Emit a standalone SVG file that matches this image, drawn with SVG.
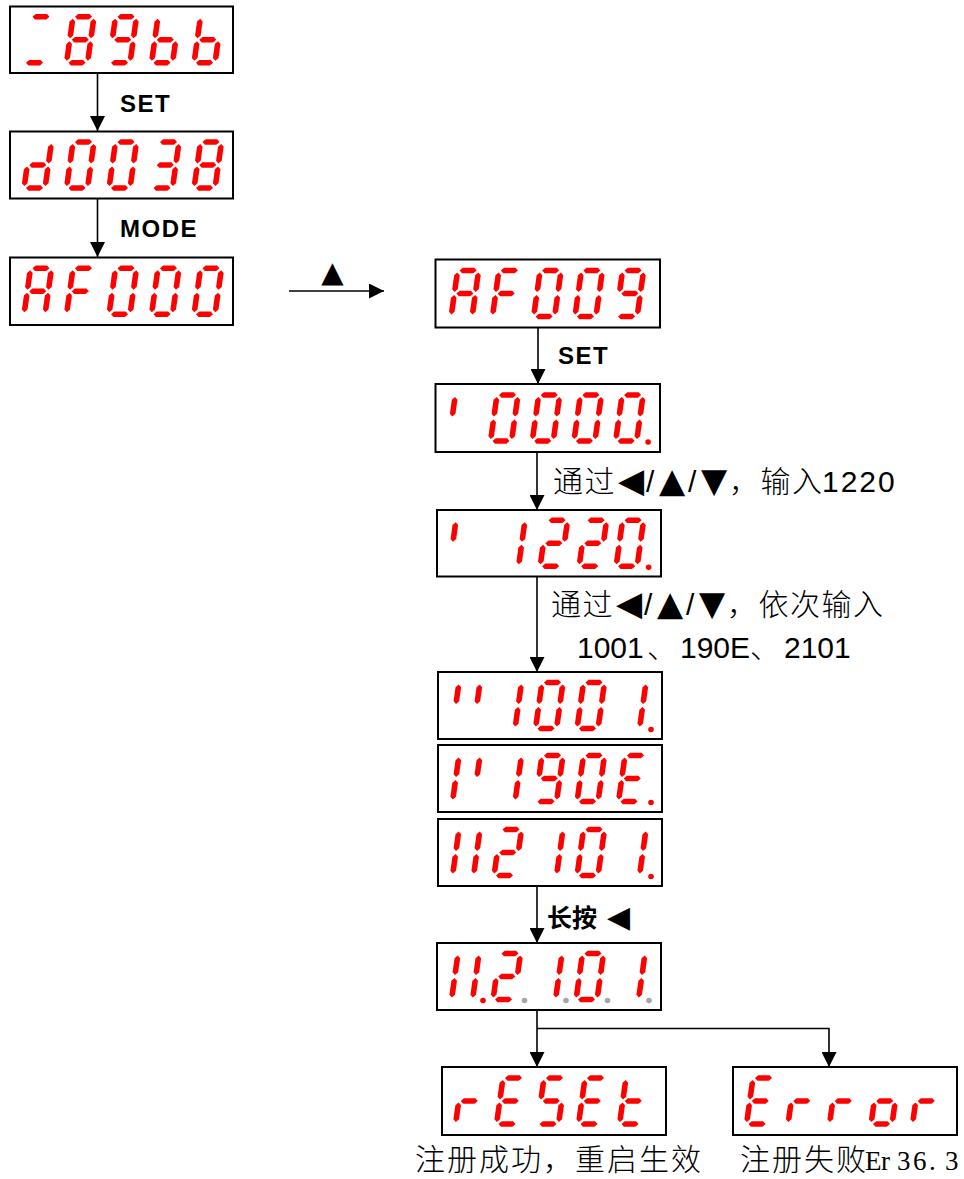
<svg xmlns="http://www.w3.org/2000/svg" width="964" height="1179" viewBox="0 0 964 1179">
<style>
.box{fill:#fff;stroke:#000;stroke-width:2}
.seg{fill:#ff0000}
.dp{fill:#ff0000}
.dpg{fill:#a6a6a6}
.conn{fill:none;stroke:#000;stroke-width:1.6}
.key{font-family:"Liberation Sans",Arial,sans-serif;font-weight:bold;font-size:24px;letter-spacing:1.5px;fill:#000}
.cjk{font-family:"Noto Sans CJK SC",sans-serif;font-size:30px;font-weight:300;fill:#000}
.cjkb{font-family:"Noto Sans CJK SC",sans-serif;font-size:25px;font-weight:bold;fill:#000}
.lat{font-family:"Liberation Sans",Arial,sans-serif;font-size:30px;font-weight:normal;fill:#000}
.sym{font-family:"DejaVu Sans",sans-serif;font-weight:normal;fill:#000}
.mono{font-family:"Liberation Serif","Times New Roman",serif;font-size:27px;font-weight:normal;fill:#000}
</style>
<defs>
<marker id="ah" markerWidth="15" markerHeight="15" refX="15" refY="7.5" orient="auto" markerUnits="userSpaceOnUse"><path d="M0,0 L15,7.5 L0,15 Z" fill="#000"/></marker>
<polygon id="sa" class="seg" points="2,0 4.8,-2.8 16.2,-2.8 19,0 16.2,2.8 4.8,2.8"/>
<polygon id="sg" class="seg" points="2,23 4.8,20.2 16.2,20.2 19,23 16.2,25.8 4.8,25.8"/>
<polygon id="sd" class="seg" points="2,46 4.8,43.2 16.2,43.2 19,46 16.2,48.8 4.8,48.8"/>
<polygon id="sf" class="seg" points="0,2 2.8,4.8 2.8,18.7 0,21.5 -2.8,18.7 -2.8,4.8"/>
<polygon id="se" class="seg" points="0,24.5 2.8,27.3 2.8,41.2 0,44 -2.8,41.2 -2.8,27.3"/>
<polygon id="sb" class="seg" points="21,2 23.8,4.8 23.8,18.7 21,21.5 18.2,18.7 18.2,4.8"/>
<polygon id="sc" class="seg" points="21,24.5 23.8,27.3 23.8,41.2 21,44 18.2,41.2 18.2,27.3"/>
<g id="c8" transform="skewX(-8)"><use href="#sa"/><use href="#sb"/><use href="#sc"/><use href="#sd"/><use href="#se"/><use href="#sf"/><use href="#sg"/></g>
<g id="c9" transform="skewX(-8)"><use href="#sa"/><use href="#sb"/><use href="#sc"/><use href="#sd"/><use href="#sf"/><use href="#sg"/></g>
<g id="cb" transform="skewX(-8)"><use href="#sc"/><use href="#sd"/><use href="#se"/><use href="#sf"/><use href="#sg"/></g>
<g id="cd" transform="skewX(-8)"><use href="#sb"/><use href="#sc"/><use href="#sd"/><use href="#se"/><use href="#sg"/></g>
<g id="c0" transform="skewX(-8)"><use href="#sa"/><use href="#sb"/><use href="#sc"/><use href="#sd"/><use href="#se"/><use href="#sf"/></g>
<g id="c3" transform="skewX(-8)"><use href="#sa"/><use href="#sb"/><use href="#sc"/><use href="#sd"/><use href="#sg"/></g>
<g id="cA" transform="skewX(-8)"><use href="#sa"/><use href="#sb"/><use href="#sc"/><use href="#se"/><use href="#sf"/><use href="#sg"/></g>
<g id="cF" transform="skewX(-8)"><use href="#sa"/><use href="#se"/><use href="#sf"/><use href="#sg"/></g>
<g id="c1" transform="skewX(-8)"><use href="#sb"/><use href="#sc"/></g>
<g id="c2" transform="skewX(-8)"><use href="#sa"/><use href="#sb"/><use href="#sg"/><use href="#se"/><use href="#sd"/></g>
<g id="cE" transform="skewX(-8)"><use href="#sa"/><use href="#sd"/><use href="#se"/><use href="#sf"/><use href="#sg"/></g>
<g id="cS" transform="skewX(-8)"><use href="#sa"/><use href="#sf"/><use href="#sg"/><use href="#sc"/><use href="#sd"/></g>
<g id="ct" transform="skewX(-8)"><use href="#sd"/><use href="#se"/><use href="#sf"/><use href="#sg"/></g>
<g id="cr" transform="skewX(-8)"><use href="#se"/><use href="#sg"/></g>
<g id="co" transform="skewX(-8)"><use href="#sc"/><use href="#sd"/><use href="#se"/><use href="#sg"/></g>
<g id="cad" transform="skewX(-8)"><use href="#sa"/><use href="#sd"/></g>
<g id="cf" transform="skewX(-8)"><use href="#sf"/></g>
<g id="cfb" transform="skewX(-8)"><use href="#sf"/><use href="#sb"/></g>
<g id="cefb" transform="skewX(-8)"><use href="#se"/><use href="#sf"/><use href="#sb"/></g>
<g id="cbcef" transform="skewX(-8)"><use href="#sb"/><use href="#sc"/><use href="#se"/><use href="#sf"/></g>
</defs>

<g id="connectors">
<path class="conn" d="M97.5,73 V131" marker-end="url(#ah)"/>
<path class="conn" d="M97.5,198.5 V257" marker-end="url(#ah)"/>
<path class="conn" d="M289,291 H384" marker-end="url(#ah)"/>
<path class="conn" d="M538,327.5 V384" marker-end="url(#ah)"/>
<path class="conn" d="M537,452 V510" marker-end="url(#ah)"/>
<path class="conn" d="M537,576.5 V672" marker-end="url(#ah)"/>
<path class="conn" d="M537,886 V943" marker-end="url(#ah)"/>
<path class="conn" d="M537,1010 V1067" marker-end="url(#ah)"/>
<path class="conn" d="M537,1028.5 H829 V1067" marker-end="url(#ah)"/>
</g>

<g id="labels">
<text class="key" x="120" y="112">SET</text>
<text class="key" x="120" y="237">MODE</text>
<text class="sym" x="332.5" y="282" text-anchor="middle" font-size="29">▲</text>
<text class="key" x="558" y="364">SET</text>
<text class="cjk" y="492"><tspan x="553" letter-spacing="1.5">通过</tspan><tspan x="618" class="sym" font-size="34">◀</tspan><tspan x="646" class="lat">/</tspan><tspan x="659" class="sym" font-size="34">▲</tspan><tspan x="688" class="lat">/</tspan><tspan x="701" class="sym" font-size="34">▼</tspan><tspan x="729" letter-spacing="1.5">，输入</tspan><tspan x="822" class="lat" letter-spacing="2">1220</tspan></text>
<text class="cjk" y="615"><tspan x="551" letter-spacing="1.5">通过</tspan><tspan x="616" class="sym" font-size="34">◀</tspan><tspan x="644" class="lat">/</tspan><tspan x="657" class="sym" font-size="34">▲</tspan><tspan x="686" class="lat">/</tspan><tspan x="699" class="sym" font-size="34">▼</tspan><tspan x="727" letter-spacing="1.5">，依次输入</tspan></text>
<text class="cjk" y="658"><tspan x="577" class="lat">1001</tspan><tspan x="647">、</tspan><tspan x="680" class="lat">190E</tspan><tspan x="750">、</tspan><tspan x="784" class="lat">2101</tspan></text>
<text class="cjkb" y="927"><tspan x="547">长按</tspan><tspan x="607" class="sym" font-size="30">◀</tspan></text>
<text class="cjk" x="415" y="1170" font-size="29" letter-spacing="2">注册成功，重启生效</text>
<text class="cjk" y="1170" font-size="29"><tspan x="740" letter-spacing="2">注册失败</tspan><tspan class="mono" x="865 881 897 913 929 945">Er36.3</tspan></text>
</g>

<g id="n1"><rect class="box" x="10" y="6.5" width="223" height="66.5"/>
<use href="#cad" x="30.5" y="16.75"/><use href="#c8" x="73" y="16.75"/><use href="#c9" x="115.5" y="16.75"/><use href="#cb" x="158" y="16.75"/><use href="#cb" x="200.5" y="16.75"/></g>
<g id="n2"><rect class="box" x="10" y="131.5" width="223" height="67"/>
<use href="#cd" x="30.5" y="142"/><use href="#c0" x="73" y="142"/><use href="#c0" x="115.5" y="142"/><use href="#c3" x="158" y="142"/><use href="#c8" x="200.5" y="142"/></g>
<g id="n3"><rect class="box" x="10" y="257.5" width="223" height="67.5"/>
<use href="#cA" x="30.5" y="268.25"/><use href="#cF" x="73" y="268.25"/><use href="#c0" x="115.5" y="268.25"/><use href="#c0" x="158" y="268.25"/><use href="#c0" x="200.5" y="268.25"/></g>
<g id="n4"><rect class="box" x="435.5" y="259.5" width="224.5" height="68"/>
<use href="#cA" x="457.6" y="270.5"/><use href="#cF" x="498.9" y="270.5"/><use href="#c0" x="540.1" y="270.5"/><use href="#c0" x="581.4" y="270.5"/><use href="#c9" x="622.6" y="270.5"/></g>
<g id="n5"><rect class="box" x="435.5" y="384" width="224.5" height="68"/>
<use href="#cf" x="455.3" y="395"/><use href="#c0" x="497" y="395"/><use href="#c0" x="538.7" y="395"/><use href="#c0" x="580.4" y="395"/><use href="#c0" x="622.1" y="395"/><circle class="dp" cx="648.1" cy="442" r="2.8"/></g>
<g id="n6"><rect class="box" x="437" y="510" width="224" height="66.5"/>
<use href="#cf" x="456" y="520.25"/><use href="#c1" x="504" y="520.25"/><use href="#c2" x="546.6" y="520.25"/><use href="#c2" x="585.6" y="520.25"/><use href="#c0" x="622.6" y="520.25"/><circle class="dp" cx="648.6" cy="567.25" r="2.8"/></g>
<g id="n7"><rect class="box" x="438" y="672" width="224" height="67"/>
<use href="#cfb" x="459" y="682.5"/><use href="#c1" x="500.5" y="682.5"/><use href="#c0" x="542" y="682.5"/><use href="#c0" x="583.5" y="682.5"/><use href="#c1" x="625" y="682.5"/><circle class="dp" cx="651" cy="729.5" r="2.8"/></g>
<g id="n8"><rect class="box" x="438" y="745" width="224" height="67"/>
<use href="#cefb" x="459" y="755.5"/><use href="#c1" x="500.5" y="755.5"/><use href="#c9" x="542" y="755.5"/><use href="#c0" x="583.5" y="755.5"/><use href="#cE" x="625" y="755.5"/><circle class="dp" cx="651" cy="802.5" r="2.8"/></g>
<g id="n9"><rect class="box" x="438" y="819" width="224" height="67"/>
<use href="#cbcef" x="459" y="829.5"/><use href="#c2" x="500.5" y="829.5"/><use href="#c1" x="542" y="829.5"/><use href="#c0" x="583.5" y="829.5"/><use href="#c1" x="625" y="829.5"/><circle class="dp" cx="651" cy="876.5" r="2.8"/></g>
<g id="n10"><rect class="box" x="437" y="943" width="224" height="67"/>
<use href="#cbcef" x="458" y="953.5"/><use href="#c2" x="499.5" y="953.5"/><use href="#c1" x="541" y="953.5"/><use href="#c0" x="582.5" y="953.5"/><use href="#c1" x="624" y="953.5"/>
<circle class="dp" cx="483" cy="1000.5" r="2.8"/><circle class="dpg" cx="524.5" cy="1000.5" r="2.8"/><circle class="dpg" cx="566" cy="1000.5" r="2.8"/><circle class="dpg" cx="607.5" cy="1000.5" r="2.8"/><circle class="dpg" cx="649" cy="1000.5" r="2.8"/></g>
<g id="n11"><rect class="box" x="442" y="1067" width="224" height="68"/>
<use href="#cr" x="462" y="1078"/><use href="#cE" x="503" y="1078"/><use href="#cS" x="544" y="1078"/><use href="#cE" x="585" y="1078"/><use href="#ct" x="626" y="1078"/></g>
<g id="n12"><rect class="box" x="733" y="1067" width="224" height="68"/>
<use href="#cE" x="753" y="1078"/><use href="#cr" x="794.5" y="1078"/><use href="#cr" x="836" y="1078"/><use href="#co" x="877.5" y="1078"/><use href="#cr" x="919" y="1078"/></g>
</svg>
